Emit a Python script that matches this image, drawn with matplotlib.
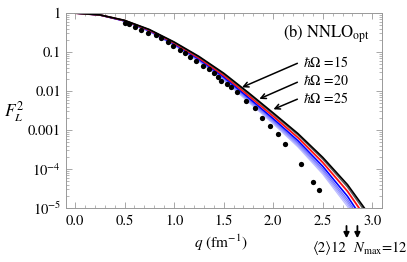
import matplotlib
matplotlib.use('Agg')

import numpy as np
import matplotlib.pyplot as plt
from matplotlib.ticker import FixedLocator, FixedFormatter, MultipleLocator, LogLocator, NullFormatter

plt.rcParams['font.family'] = ['STIXGeneral', 'DejaVu Serif']
plt.rcParams['mathtext.fontset'] = 'stix'

q_grid = [0.0, 0.25, 0.5, 0.75, 1.0, 1.25, 1.5, 1.75, 2.0, 2.25, 2.5, 2.75, 3.0]
black_log = [0, -0.045, -0.185, -0.42, -0.74, -1.11, -1.54, -2.04, -2.56, -3.09, -3.70, -4.40, -5.28]
grey_log = [0, -0.046, -0.188, -0.426, -0.75, -1.124, -1.56, -2.065, -2.59, -3.126, -3.745, -4.46, -5.35]
red_log = [0, -0.047, -0.192, -0.437, -0.767, -1.15, -1.596, -2.112, -2.644, -3.194, -3.83, -4.57, -5.49]
blue_log = [0, -0.048, -0.198, -0.449, -0.788, -1.18, -1.637, -2.166, -2.707, -3.272, -3.928, -4.70, -5.65]
light_logs = [
    [0, -0.049, -0.202, -0.457, -0.801, -1.20, -1.665, -2.202, -2.749, -3.324, -3.993, -4.783, -5.75],
    [0, -0.050, -0.204, -0.463, -0.811, -1.214, -1.685, -2.227, -2.778, -3.36, -4.038, -4.842, -5.83],
    [0, -0.050, -0.207, -0.469, -0.820, -1.228, -1.704, -2.252, -2.808, -3.397, -4.084, -4.90, -5.90],
    [0, -0.051, -0.209, -0.475, -0.830, -1.242, -1.723, -2.278, -2.837, -3.433, -4.129, -4.96, -5.97],
]
light_colors = ['#6f6fff', '#8a8aff', '#a5a5ff', '#bdbdff']

# experimental points (q, log10 F_L^2)
exp_q = [0.51, 0.545, 0.606, 0.667, 0.74, 0.815, 0.87, 0.935, 0.985, 1.06, 1.115, 1.16,
         1.22, 1.29, 1.35, 1.40, 1.44, 1.47, 1.53, 1.57, 1.64, 1.73, 1.815, 1.885,
         1.965, 2.05, 2.12, 2.28, 2.40, 2.46]
exp_log = [-0.26, -0.28, -0.355, -0.43, -0.50, -0.57, -0.635, -0.745, -0.84, -0.94, -1.03, -1.12,
           -1.22, -1.355, -1.44, -1.545, -1.64, -1.73, -1.83, -1.89, -2.03, -2.26, -2.43, -2.70,
           -2.90, -3.11, -3.36, -3.88, -4.32, -4.54]

xticks = [0.0, 0.5, 1.0, 1.5, 2.0, 2.5, 3.0]
yticks = [1, 0.1, 0.01, 0.001, 1e-4, 1e-5]
ylabels = ['1', '0.1', '0.01', '0.001', r'$10^{-4}$', r'$10^{-5}$']
nmax_q = [2.74, 2.85]

fig = plt.figure(figsize=(4.07, 2.62), dpi=100)
ax = fig.add_axes([0.162, 0.206, 0.777, 0.744])

qg = np.array(q_grid)
for lg, c in zip(light_logs[::-1], light_colors[::-1]):
    ax.plot(qg, 10 ** np.array(lg), color=c, lw=0.9)
ax.plot(qg, 10 ** np.array(blue_log), color='#0000ff', lw=1.2)
ax.plot(qg, 10 ** np.array(red_log), color='#ff1010', lw=1.3)
ax.plot(qg, 10 ** np.array(grey_log), color='#555555', lw=1.0)
ax.plot(qg, 10 ** np.array(black_log), color='black', lw=1.2)

ax.plot(exp_q, 10 ** np.array(exp_log), 'o', color='black', ms=3.8, mec='none')

ax.set_yscale('log')
ax.set_xlim(-0.091, 3.10)
ax.set_ylim(1e-5, 1)

ax.xaxis.set_major_locator(FixedLocator(xticks))
ax.xaxis.set_minor_locator(MultipleLocator(0.1))
ax.set_xticklabels(['%.1f' % t for t in xticks])
ax.yaxis.set_major_locator(FixedLocator(yticks))
ax.yaxis.set_major_formatter(FixedFormatter(ylabels))
ax.yaxis.set_minor_locator(LogLocator(base=10, subs=np.arange(2, 10)))
ax.yaxis.set_minor_formatter(NullFormatter())

ax.tick_params(which='both', direction='in', top=True, right=True, color='#999999',
               labelsize=10.5)
ax.tick_params(which='major', length=4, width=0.6)
ax.tick_params(axis='x', pad=5)
ax.tick_params(which='minor', length=2, width=0.5)
for sp in ax.spines.values():
    sp.set_color('#999999')
    sp.set_linewidth(0.7)

ax.set_xlabel(r'$q$ (fm$^{-1}$)', fontsize=11)
ax.xaxis.label.set_va('center')
ax.xaxis.set_label_coords(0.49, -0.18)
ax.set_ylabel(r'$F_L^2$', fontsize=12.5, rotation=0, va='center', ha='center')
ax.yaxis.set_label_coords(-0.165, 0.495)

ax.text(2.10, 0.24, r'(b) NNLO$_{\rm opt}$', fontsize=12)

labels = [r'$\hbar\Omega$ =15', r'$\hbar\Omega$ =20', r'$\hbar\Omega$ =25']
label_pos = [(2.30, 0.055), (2.30, 0.018), (2.30, 0.0066)]
tips = [(1.66, 0.0117), (1.835, 0.0059), (1.977, 0.0032)]
for lab, (tx, ty), tip in zip(labels, label_pos, tips):
    ax.annotate('', xy=tip, xytext=(tx - 0.03, ty),
                arrowprops=dict(arrowstyle='->', color='black', lw=1.1, mutation_scale=9))
    ax.text(tx, ty, lab, fontsize=10, va='center')

# Nmax markers below the axis
for xa in nmax_q:
    ax.annotate('', xy=(xa, -0.155), xytext=(xa, -0.092), xycoords=ax.get_xaxis_transform(),
                textcoords=ax.get_xaxis_transform(), annotation_clip=False,
                arrowprops=dict(arrowstyle='-|>', color='black', lw=1.3, mutation_scale=8,
                                shrinkA=0, shrinkB=0))
ax.text(2.40, -0.205, '\u27e82\u27e912', transform=ax.get_xaxis_transform(), fontsize=10.5, va='center')
ax.text(2.81, -0.205, r'$N_{\rm max}$=12', transform=ax.get_xaxis_transform(), fontsize=10.5, va='center')

fig.savefig('out.png', dpi=100)
